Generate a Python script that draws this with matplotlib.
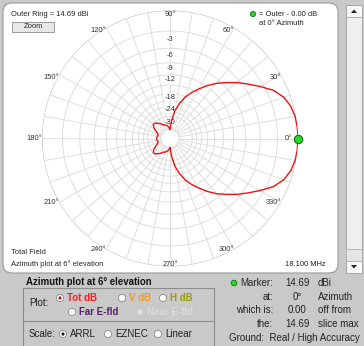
import numpy as np
import matplotlib.pyplot as plt
from matplotlib.patches import FancyBboxPatch, Rectangle, Circle, Polygon

plt.rcParams['font.family'] = ['Liberation Sans', 'DejaVu Sans']

# azimuth pattern at 6 deg elevation, dB relative to outer ring (14.69 dBi)
azimuth = list(range(0, 361, 5))
gain_db = [0.0, -0.03, -0.13, -0.41, -0.97, -1.99, -3.56, -5.12, -6.63, -8.28,
           -9.87, -11.76, -13.88, -15.96, -18.33, -21.77, -26.08, -33.67, -45.6,
           -42.1, -39.9, -38.6, -37.4, -36.8, -35.2, -33.2, -31.9, -30.6, -30.4,
           -31.9, -34.6, -37.4, -39.5, -40.2, -39.5, -39.0, -38.7,
           -39.0, -39.5, -40.2, -39.5, -37.4, -34.6, -31.9, -30.4, -30.6, -31.9,
           -33.2, -35.2, -36.8, -37.4, -38.6, -39.9, -42.1, -45.6, -33.67, -26.08,
           -21.77, -18.33, -15.96, -13.88, -11.76, -9.87, -8.28, -6.63, -5.12,
           -3.56, -1.99, -0.97, -0.41, -0.13, -0.03, 0.0]

ring_levels = [-3, -6, -9, -12, -15, -18, -21, -24, -27, -30, -45]
ring_labels = ['-3', '-6', '-9', '-12', '', '-18', '', '-24', '', '-30']
angle_ticks = list(range(0, 360, 30))

marker_rows = [('Marker:', '14.69', 'dBi'), ('at:', '0°', 'Azimuth'),
               ('which is:', '0.00', 'off from'), ('the:', '14.69', 'slice max')]


def arrl(db):
    # ARRL log-periodic scale: radius x0.89 every 2 dB
    return 0.89 ** (-np.asarray(db, dtype=float) / 2)


W, H = 364, 346
fig = plt.figure(figsize=(W / 100, H / 100), dpi=100, facecolor='#c9c9c9')

# ---- window / controls ----
ui = fig.add_axes([0, 0, 1, 1])
ui.set_xlim(0, W)
ui.set_ylim(H, 0)
ui.axis('off')

ui.add_patch(FancyBboxPatch((3, 3), 335, 270, boxstyle='round,pad=0,rounding_size=9',
                            fc='white', ec='#9a9a9a', lw=0.8))

# scrollbar
ui.add_patch(Rectangle((346, 5), 16, 268, fc='#efefef', ec='#a0a0a0', lw=0.6))
ui.add_patch(Rectangle((346, 5), 16, 12, fc='#f8f8f8', ec='#a0a0a0', lw=0.6))
ui.add_patch(Rectangle((346, 261), 16, 12, fc='#f8f8f8', ec='#a0a0a0', lw=0.6))
ui.add_patch(Rectangle((346, 249), 16, 12, fc='#e4e4e4', ec='#b0b0b0', lw=0.6))
ui.add_patch(Polygon([[351, 13], [357, 13], [354, 9.5]], fc='#222222'))
ui.add_patch(Polygon([[351, 265], [357, 265], [354, 268.5]], fc='#222222'))

fs = 5.4
ui.text(11, 14, 'Outer Ring = 14.69 dBi', fontsize=fs, va='center', color='#222222')
ui.add_patch(Rectangle((12, 22), 42, 10, fc='#e8e8e8', ec='#8c8c8c', lw=0.6))
ui.text(33, 27, 'Zoom', fontsize=fs, ha='center', va='center', color='#222222')

ui.add_patch(Circle((253, 14), 2.6, fc='#22dd22', ec='#1a6a1a', lw=0.6))
ui.text(259, 14, '= Outer - 0.00 dB', fontsize=fs, va='center', color='#222222')
ui.text(259, 23.5, 'at 0° Azimuth', fontsize=fs, va='center', color='#222222')

ui.text(11, 253, 'Total Field', fontsize=fs, va='center', color='#222222')
ui.text(11, 264, 'Azimuth plot at 6° elevation', fontsize=fs, va='center', color='#222222')
ui.text(326, 264, '18.100 MHz', fontsize=fs, ha='right', va='center', color='#222222')

# bottom panel
ui.text(26, 282, 'Azimuth plot at 6° elevation', fontsize=6.9, weight='bold',
        va='center', color='#111111')
ui.add_patch(Rectangle((23, 288), 191, 70, fc='none', ec='#8c8c8c', lw=0.8))
ui.plot([23, 214], [321, 321], color='#8c8c8c', lw=0.8)


def radio(x, y, on=False, dot='#111111', enabled=True):
    ui.add_patch(Circle((x, y), 3.6, fc='white' if enabled else '#dcdcdc',
                        ec='#8a8a8a' if enabled else '#c4c4c4', lw=0.6))
    if on:
        ui.add_patch(Circle((x, y), 1.6, fc=dot, ec='none'))


fs2 = 7
ui.text(29, 303, 'Plot:', fontsize=fs2, va='center', color='#222222')
radio(60, 298, on=True, dot='#cc1111')
ui.text(67, 298, 'Tot dB', fontsize=fs2, weight='bold', va='center', color='#ff1a1a')
radio(122, 298)
ui.text(129, 298, 'V dB', fontsize=fs2, weight='bold', va='center', color='#f39a22')
radio(163, 298)
ui.text(170, 298, 'H dB', fontsize=fs2, weight='bold', va='center', color='#9c9a10')
radio(72, 312)
ui.text(79, 312, 'Far E-fld', fontsize=fs2, weight='bold', va='center', color='#5a1f6e')
radio(140, 312, enabled=False)
ui.text(147, 312, 'Near E-fld', fontsize=fs2, weight='bold', va='center', color='#dadada')

ui.text(29, 334, 'Scale:', fontsize=fs2, va='center', color='#222222')
radio(63, 334, on=True)
ui.text(70, 334, 'ARRL', fontsize=fs2, va='center', color='#222222')
radio(108, 334)
ui.text(115, 334, 'EZNEC', fontsize=fs2, va='center', color='#222222')
radio(158, 334)
ui.text(165, 334, 'Linear', fontsize=fs2, va='center', color='#222222')

ui.add_patch(Circle((234, 283), 2.8, fc='#22dd22', ec='#1a6a1a', lw=0.6))
for (lab, val, unit), y in zip(marker_rows, [283, 296.5, 310, 324]):
    ui.text(273, y, lab, fontsize=fs2, ha='right', va='center', color='#222222')
    ui.text(297, y, val, fontsize=fs2, ha='center', va='center', color='#222222')
    ui.text(318, y, unit, fontsize=fs2, va='center', color='#222222')
ui.text(229, 338, 'Ground:  Real / High Accuracy', fontsize=fs2, va='center', color='#222222')

# ---- polar plot ----
cx, cy, R = 170, 138.5, 128
ax = fig.add_axes([(cx - R) / W, 1 - (cy + R) / H, 2 * R / W, 2 * R / H],
                  projection='polar', facecolor='none')
ax.set_ylim(0, 1)
ax.axis('off')

th = np.linspace(0, 2 * np.pi, 721)
grid_c = '#dedede'
for lvl in ring_levels:
    ax.plot(th, np.full_like(th, arrl(lvl)), color=grid_c, lw=0.7)
ax.plot(th, np.ones_like(th), color='#bdbdbd', lw=0.8)
for a in range(0, 360, 10):
    ax.plot([np.radians(a)] * 2, [arrl(-45), 1], color=grid_c, lw=0.7)

for i, lab in enumerate(ring_labels):
    if lab:
        rmid = (arrl(ring_levels[i]) + arrl(ring_levels[i + 1])) / 2
        ax.text(np.pi / 2, rmid, lab, fontsize=fs, ha='center', va='center', color='#333333',
                bbox=dict(fc='white', ec='none', pad=0.2))

for a in angle_ticks:
    if a in (90, 270):
        ha, off = 'center', (0, -3.5 if a == 90 else 1.5)
    elif a == 0:
        ha, off = 'right', (-6, 0)
    else:
        ha, off = 'right', (0, -3 if a < 180 else 0)
    ax.annotate(f'{a}°', xy=(np.radians(a), 1), xytext=off, textcoords='offset pixels',
                fontsize=fs, ha=ha, va='center', color='#333333', annotation_clip=False)

ax.plot(np.radians(azimuth), arrl(gain_db), color='#ee1111', lw=1.0, zorder=5)
ax.plot([0], [1], 'o', ms=6, mfc='#22dd22', mec='#1a6a1a', mew=0.8, clip_on=False, zorder=6)

fig.savefig('out.png', dpi=100, facecolor=fig.get_facecolor())
